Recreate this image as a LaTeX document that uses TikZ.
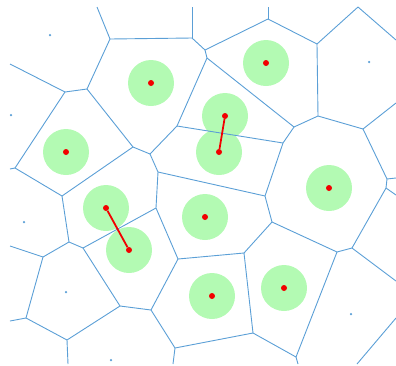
\documentclass[tikz,border=0pt]{standalone}
\usepackage{tikz}
\usetikzlibrary{positioning}
\definecolor{edgeBlue}{HTML}{5B9FD6}
\definecolor{zoneGreen}{HTML}{B3FAB3}
\definecolor{siteRed}{HTML}{F20000}
\tikzset{
  edge/.style={draw=edgeBlue, line width=0.9pt},
  zone/.style={circle, fill=zoneGreen, minimum size=46pt, inner sep=0pt},
  site/.style={circle, fill=siteRed, minimum size=6pt, inner sep=0pt},
  seed/.style={circle, fill=edgeBlue, minimum size=2.5pt, inner sep=0pt},
  link/.style={draw=siteRed, line width=1.8pt},
}

\begin{document}
\begin{tikzpicture}[x=1pt, y=-1pt]
    \useasboundingbox (0,0) rectangle (396,365);

    % zones round the sites
    \foreach \n/\p in {1/{151,83}, 2/{266,63}, 3/{66,152}, 4/{225,116}, 5/{219,152},
                       6/{329,188}, 7/{106,208}, 8/{129,250}, 9/{205,217},
                       10/{212,296}, 11/{284,288}}
      \node[zone] (z\n) at (\p) {};

    % cell corners
    \coordinate (A) at (110,39);   \coordinate (B) at (192,38);
    \coordinate (C) at (65,92);    \coordinate (D) at (87,89);
    \coordinate (E) at (15,168);   \coordinate (F) at (62,196);
    \coordinate (G) at (133,147);  \coordinate (H) at (150,154);
    \coordinate (I) at (177,126);  \coordinate (J) at (205,50);
    \coordinate (K) at (268,19);   \coordinate (L) at (207,58);
    \coordinate (M) at (294,127);  \coordinate (N) at (283,143);
    \coordinate (O) at (265,196);  \coordinate (P) at (158,172);
    \coordinate (Q) at (317,44);   \coordinate (R) at (318,116);
    \coordinate (S) at (363,129);  \coordinate (T) at (387,179);
    \coordinate (U) at (386,188);  \coordinate (V) at (352,248);
    \coordinate (W) at (337,252);  \coordinate (X) at (272,222);
    \coordinate (Y) at (244,253);  \coordinate (Z) at (178,259);
    \coordinate (AA) at (156,208); \coordinate (BB) at (69,242);
    \coordinate (CC) at (83,248);  \coordinate (DD) at (120,306);
    \coordinate (EE) at (151,310); \coordinate (FF) at (175,348);
    \coordinate (GG) at (253,333); \coordinate (HH) at (296,357);
    \coordinate (II) at (43,257);  \coordinate (JJ) at (26,318);
    \coordinate (KK) at (67,340);  \coordinate (LL) at (358,7);

    % open ends at the frame
    \coordinate (tA) at (97,7);    \coordinate (tB) at (192,7);
    \coordinate (tK) at (268,7);   \coordinate (lC) at (10,64);
    \coordinate (lE) at (10,169);  \coordinate (lII) at (10,246);
    \coordinate (lJJ) at (10,321); \coordinate (bKK) at (68,364);
    \coordinate (bFF) at (173,364); \coordinate (bHH) at (298,364);
    \coordinate (rLL) at (396,40); \coordinate (rS) at (396,103);
    \coordinate (rT) at (396,178); \coordinate (rU) at (396,195);
    \coordinate (rV) at (396,281); \coordinate (rc) at (396,318);
    \coordinate (bc) at (357,364);

    % cell edges
    \foreach \a/\b in {A/B, A/D, A/tA, B/tB, B/J, J/K, K/tK, J/L, L/I, L/M,
                       I/H, I/N, H/G, G/D, D/C, C/lC, C/E, E/lE, E/F, F/G,
                       F/BB, H/P, P/O, P/AA, N/M, N/O, M/R, R/Q, Q/K, Q/LL,
                       LL/rLL, R/S, S/rS, S/T, T/rT, T/U, U/rU, U/V, V/W, V/rV,
                       W/X, X/O, W/HH, X/Y, Y/Z, Y/GG, Z/AA, Z/EE, AA/CC, BB/CC,
                       BB/II, II/lII, II/JJ, JJ/lJJ, JJ/KK, KK/bKK, KK/DD, DD/CC,
                       DD/EE, EE/FF, FF/bFF, FF/GG, GG/HH, HH/bHH, rc/bc}
      \draw[edge] (\a) -- (\b);

    % plain sites
    \foreach \n/\p in {1/{50,35}, 2/{11,115}, 3/{369,62}, 4/{24,222},
                       5/{66,292}, 6/{111,360}, 7/{351,314}}
      \node[seed] (q\n) at (\p) {};

    % marked sites
    \foreach \n in {1,...,11}
      \node[site] (s\n) at (z\n.center) {};

    \draw[link] (s4) -- (s5);
    \draw[link] (s7) -- (s8);
\end{tikzpicture}
\end{document}
